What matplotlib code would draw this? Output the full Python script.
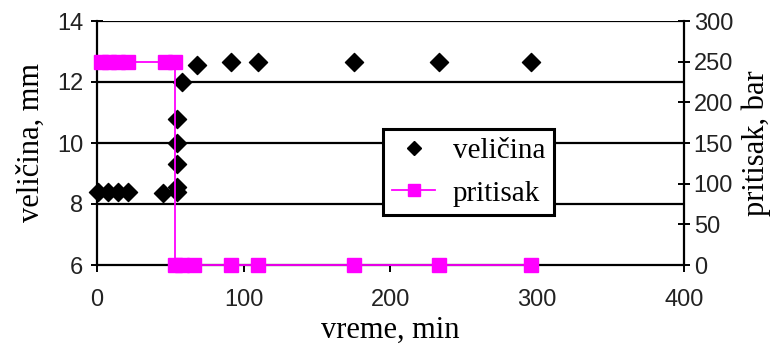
import matplotlib
matplotlib.use("Agg")
import matplotlib.pyplot as plt
from matplotlib.lines import Line2D

# Data
vel_t = [0.7, 7.5, 14.3, 21, 45, 54.5, 54.5, 54.5, 54.5, 54.5, 58, 68, 91, 110, 175, 233, 296]
vel_v = [8.38, 8.38, 8.38, 8.38, 8.35, 8.4, 8.55, 9.3, 10.0, 10.8, 12.0, 12.55, 12.65, 12.65, 12.65, 12.65, 12.65]
pr_t = [3, 8, 14, 21, 46, 53, 53, 58, 66, 91, 110, 175, 233, 296]
pr_v = [250, 250, 250, 250, 250, 250, 0, 0, 0, 0, 0, 0, 0, 0]
x_ticks = [0, 100, 200, 300, 400]
yl_ticks = [6, 8, 10, 12, 14]
yr_ticks = [0, 50, 100, 150, 200, 250, 300]

serif = ["Liberation Serif", "DejaVu Serif"]
sans = ["Liberation Sans", "DejaVu Sans"]

fig = plt.figure(figsize=(7.84, 3.52), dpi=100)
ax = fig.add_axes([97/784, 1-265/352, (684-97)/784, (265-21)/352])
ax2 = ax.twinx()

ax.set_xlim(0, 400)
ax.set_ylim(6, 14)
ax2.set_ylim(0, 300)

for y in [8, 10, 12, 14]:
    ax.axhline(y, color="black", lw=1.6, zorder=1)

ax.scatter(vel_t, vel_v, marker="D", s=85, color="black", zorder=3, clip_on=False)
ax2.plot(pr_t, pr_v, color="#ff00ff", lw=1.3, marker="s", ms=10, mfc="#ff00ff",
         mec="#ff00ff", zorder=4, clip_on=False)

for a in (ax, ax2):
    a.spines["top"].set_visible(False)
ax.spines["right"].set_visible(False)
ax2.spines["left"].set_visible(False)
for s in ["left", "bottom"]:
    ax.spines[s].set_linewidth(1.6)
ax2.spines["right"].set_linewidth(1.6)
ax2.spines["bottom"].set_visible(False)

ax.set_xticks(x_ticks)
ax.set_yticks(yl_ticks)
ax2.set_yticks(yr_ticks)
ax.tick_params(axis="y", direction="inout", length=8, width=1.4, labelsize=17, pad=6)
ax.tick_params(axis="x", direction="out", length=5, width=1.4, labelsize=17, pad=12)
ax2.tick_params(axis="y", direction="inout", length=8, width=1.4, labelsize=17, pad=3)
for lab in ax.get_xticklabels() + ax.get_yticklabels() + ax2.get_yticklabels():
    lab.set_family(sans)
    lab.set_color("#222222")

ax.set_xlabel("vreme, min", family=serif, fontsize=22, labelpad=4)
ax.set_ylabel("veličina, mm", family=serif, fontsize=22, labelpad=8)
ax2.set_ylabel("pritisak, bar", family=serif, fontsize=22, labelpad=6)

handles = [Line2D([], [], ls="none", marker="D", ms=7, color="black"),
           Line2D([], [], color="#ff00ff", lw=1.3, marker="s", ms=8, mfc="#ff00ff")]
leg = ax2.legend(handles, ["veličina", "pritisak"], loc="upper left",
                 bbox_to_anchor=((383-97)/587, (265-129)/244), frameon=True,
                 fancybox=False, edgecolor="black", framealpha=1,
                 prop={"family": serif, "size": 21}, handlelength=1.5,
                 borderpad=0.3, labelspacing=0.55, handletextpad=0.6,
                 borderaxespad=0)
leg.get_frame().set_linewidth(2.2)
leg.set_zorder(10)

fig.savefig("out.png", dpi=100)
